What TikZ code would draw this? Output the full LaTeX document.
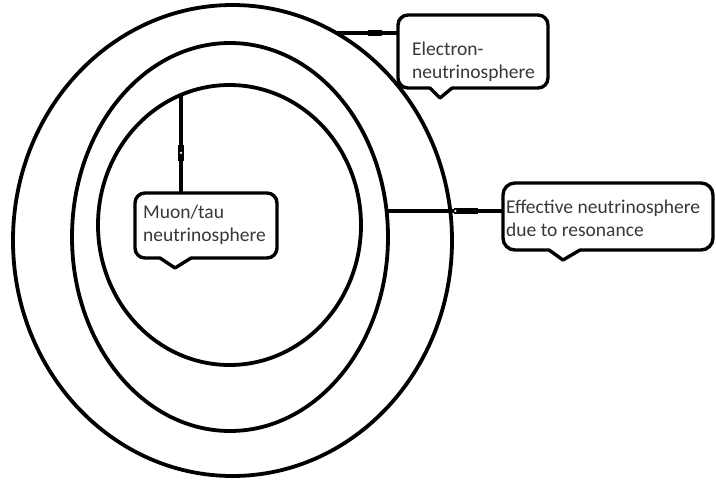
\documentclass[tikz,border=0pt]{standalone}
\usepackage{fontspec}
\setmainfont{Carlito}
\usetikzlibrary{shapes.geometric}
\begin{document}
\begin{tikzpicture}[x=1pt,y=-1pt,
  ring/.style={draw, ellipse, line width=3.8pt, inner sep=0pt, outer sep=0pt},
  boxph/.style={inner sep=0pt, outer sep=0pt},
  cl/.style={draw, line width=3.4pt, line cap=round, line join=round},
  conn/.style={draw, line width=3.6pt},
  knotnode/.style={fill, sloped, inner sep=0pt, outer sep=0pt, minimum height=6.5pt},
  knotdot/.style={fill=white, circle, inner sep=0pt, minimum size=2.6pt},
  txt/.style={inner sep=0pt, align=left, anchor=west, text=black!78,
      font=\fontsize{19.5pt}{23pt}\selectfont}]
\useasboundingbox (0,0) rectangle (716,480);
\fill[white] (0,0) rectangle (716,480);

% spheres
\node[ring, minimum width=439pt, minimum height=471pt] (outer) at (232.5,240.5) {};
\node[ring, minimum width=316pt, minimum height=388pt] (middle) at (230,237) {};
\node[ring, minimum width=263pt, minimum height=280pt] (inner) at (229.5,225) {};

% callout boxes (placeholders)
\node[boxph, minimum width=150pt, minimum height=73pt] (ebox) at (473,51.5) {};
\node[boxph, minimum width=142pt, minimum height=65pt] (mbox) at (206,225.5) {};
\node[boxph, minimum width=210pt, minimum height=67pt] (fbox) at (608,216.5) {};

% pointer points
\coordinate (etip) at (440,98);
\coordinate (eL) at (430,88);
\coordinate (eR) at (452,88);
\coordinate (mtip) at (175,268);
\coordinate (mL) at (160,258);
\coordinate (mR) at (191,258);
\coordinate (ftip) at (563,260);
\coordinate (fL) at (549,250);
\coordinate (fR) at (580,250);

% callout outlines
\draw[cl, rounded corners=10pt] (eL) -- (ebox.south west) -- (ebox.north west) -- (ebox.north east) -- (ebox.south east) -- (eR);
\draw[cl] (eR) -- (etip) -- (eL);
\draw[cl, rounded corners=10pt] (mL) -- (mbox.south west) -- (mbox.north west) -- (mbox.north east) -- (mbox.south east) -- (mR);
\draw[cl] (mR) -- (mtip) -- (mL);
\draw[cl, rounded corners=12pt] (fL) -- (fbox.south west) -- (fbox.north west) -- (fbox.north east) -- (fbox.south east) -- (fR);
\draw[cl] (fR) -- (ftip) -- (fL);

% texts
\node[txt] (etext) at (412,61.5) {Electron-\\neutrinosphere};
\node[txt] (mtext) at (143,225) {Muon/tau\\neutrinosphere};
\node[txt] (ftext) at (506,218.5) {Effective neutrinosphere\\due to resonance};

% connectors
\coordinate (eStart) at (337,33);
\coordinate (mStart) at (181,95);
\coordinate (fStart) at (387,211);
\draw[conn] (eStart) -- (eStart -| ebox.west)
  node[knotnode, pos=0.62, minimum width=14pt] (ek) {};
\draw[conn] (mStart) -- (mStart |- mbox.north)
  node[knotnode, pos=0.59, minimum width=16pt] (mk) {}
  node[knotdot, pos=0.59] (mkd) {};
\draw[conn] (fStart) -- (fStart -| fbox.west)
  node[knotnode, pos=0.68, minimum width=24pt] (fk) {}
  node[knotdot, pos=0.59] (fkd) {};
\end{tikzpicture}
\end{document}
